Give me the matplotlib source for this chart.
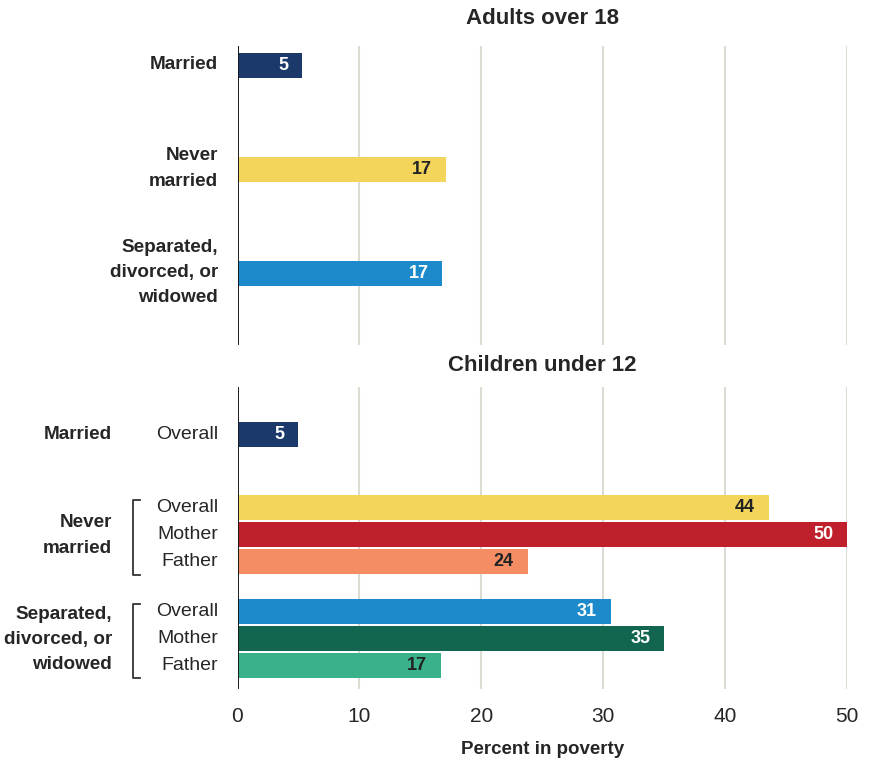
import matplotlib
matplotlib.use("Agg")
import matplotlib.pyplot as plt
from matplotlib.lines import Line2D

plt.rcParams["font.family"] = ["Liberation Sans", "DejaVu Sans"]

# Adults over 18
adult_labels = ["Married", "Never\nmarried", "Separated,\ndivorced, or\nwidowed"]
adult_values = [5.3, 17.1, 16.8]
adult_text = ["5", "17", "17"]
adult_colors = ["#1b3a6b", "#f3d55b", "#1d8bcb"]
adult_text_colors = ["white", "#222222", "white"]

# Children under 12
child_groups = ["Married", "Never\nmarried", "Separated,\ndivorced, or\nwidowed"]
child_sub = ["Overall", "Overall", "Mother", "Father", "Overall", "Mother", "Father"]
child_values = [5.0, 43.6, 50.0, 23.8, 30.6, 35.0, 16.7]
child_text = ["5", "44", "50", "24", "31", "35", "17"]
child_colors = ["#1b3a6b", "#f3d55b", "#c0202b", "#f48c64",
                "#1d8bcb", "#126650", "#39b18b"]
child_text_colors = ["white", "#222222", "white", "#222222",
                     "white", "white", "#222222"]

x_ticks = [0, 10, 20, 30, 40, 50]

W, H = 869, 762
fig = plt.figure(figsize=(W / 100, H / 100), dpi=100)

X0, X1 = 237.5, 847.0
TXT = "#262626"


def make_axes(top_px, bottom_px):
    ax = fig.add_axes([X0 / W, 1 - bottom_px / H, (X1 - X0) / W,
                       (bottom_px - top_px) / H])
    ax.set_xlim(0, 50)
    ax.set_ylim(bottom_px, top_px)  # rows measured downward
    for s in ax.spines.values():
        s.set_visible(False)
    ax.set_yticks([])
    for t in x_ticks[1:]:
        ax.axvline(t, color="#dddcd3", lw=1.5, zorder=0)
    ax.axvline(0, color="#1a1a1a", lw=1.4, zorder=3)
    return ax


def draw_bars(ax, rows, values, colors, texts, tcolors, height=25):
    ax.barh(rows, values, height=height, color=colors, zorder=2)
    for r, v, t, c in zip(rows, values, texts, tcolors):
        ax.annotate(t, (v, r), xytext=(-10, 0), textcoords="offset points",
                    ha="right", va="center", color=c, fontsize=13,
                    fontweight="bold", zorder=4)


# ---- top panel ----
ax1 = make_axes(46, 345)
rows1 = [65.5, 169.5, 273.5]
draw_bars(ax1, rows1, adult_values, adult_colors, adult_text, adult_text_colors)
ax1.set_xticks([])
ytr1 = ax1.get_yaxis_transform()
for r, lab in zip(rows1, adult_labels):
    ax1.text(-0.032, r - 1, lab, transform=ytr1,
             ha="right", va="center", fontsize=13.6, fontweight="bold",
             color=TXT, linespacing=1.62)
ax1.text(0.5, 18, "Adults over 18", transform=ytr1,
         ha="center", va="center", fontsize=16, fontweight="bold", color=TXT)

# ---- bottom panel ----
ax2 = make_axes(387, 689)
rows2 = [434.5, 507.5, 534.5, 561.5, 611.5, 638.5, 665.5]
draw_bars(ax2, rows2, child_values, child_colors, child_text, child_text_colors)
ax2.set_xticks(x_ticks)
ax2.tick_params(axis="x", length=0, pad=13, labelsize=15, labelcolor=TXT)
ax2.set_xlabel("Percent in poverty", fontsize=13.5, fontweight="bold",
               color=TXT, labelpad=11)

ytr = ax2.get_yaxis_transform()
ax2.text(0.5, 365, "Children under 12", transform=ytr,
         ha="center", va="center", fontsize=16, fontweight="bold", color=TXT)
for r, lab in zip(rows2, child_sub):
    ax2.text(-0.032, r, lab, transform=ytr, ha="right", va="center",
             fontsize=14, color=TXT)

group_rows = [434.5, 535.5, 639.5]
for r, lab in zip(group_rows, child_groups):
    ax2.text(-0.206, r, lab, transform=ytr, ha="right", va="center",
             fontsize=13.6, fontweight="bold", color=TXT, linespacing=1.62)

# brackets for the grouped rows
for top, bot in [(500, 575), (604, 678)]:
    xa = (133 - X0) / (X1 - X0)
    xb = (140 - X0) / (X1 - X0)
    ax2.add_line(Line2D([xb, xa, xa, xb], [top, top, bot, bot], transform=ytr,
                        color="#333333", lw=1.3, clip_on=False))

fig.savefig("out.png", dpi=100, facecolor="white")
